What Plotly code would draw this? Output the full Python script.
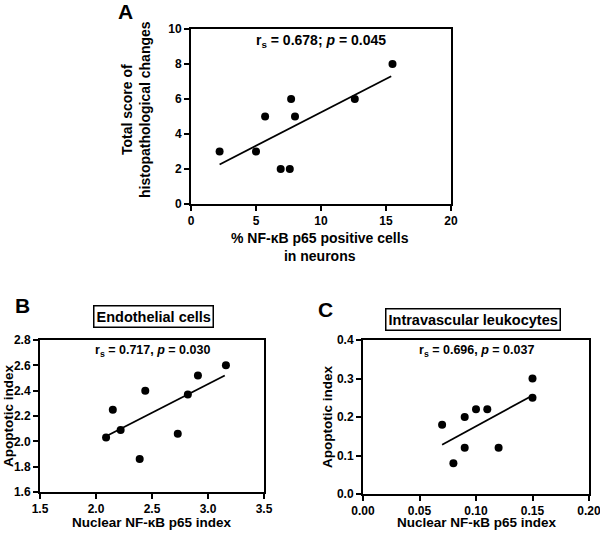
import plotly.graph_objects as go

W, H = 600, 533

# Panel A data
a_x = [2.2, 5.0, 5.7, 6.9, 7.6, 7.7, 8.0, 12.6, 15.5]
a_y = [3, 3, 5, 2, 2, 6, 5, 6, 8]
a_fit_x = [2.2, 15.4]
a_fit_y = [2.26, 7.3]
a_xticks = [0, 5, 10, 15, 20]
a_yticks = [0, 2, 4, 6, 8, 10]

# Panel B data
b_x = [2.09, 2.15, 2.22, 2.39, 2.44, 2.73, 2.82, 2.91, 3.16]
b_y = [2.03, 2.25, 2.09, 1.86, 2.40, 2.06, 2.37, 2.52, 2.60]
b_fit_x = [2.09, 3.15]
b_fit_y = [2.04, 2.52]
b_xticks = [1.5, 2.0, 2.5, 3.0, 3.5]
b_yticks = [1.6, 1.8, 2.0, 2.2, 2.4, 2.6, 2.8]

# Panel C data
c_x = [0.07, 0.08, 0.09, 0.09, 0.10, 0.11, 0.12, 0.15, 0.15]
c_y = [0.18, 0.08, 0.20, 0.12, 0.22, 0.22, 0.12, 0.30, 0.25]
c_fit_x = [0.07, 0.15]
c_fit_y = [0.128, 0.256]
c_xticks = [0.00, 0.05, 0.10, 0.15, 0.20]
c_yticks = [0.0, 0.1, 0.2, 0.3, 0.4]

FONT = "Liberation Sans, Arial, Helvetica, sans-serif"

def px(x):
    return x / W

def py(y):
    return 1 - y / H

fig = go.Figure()

panels = [
    ("x", "y", a_x, a_y, a_fit_x, a_fit_y),
    ("x2", "y2", b_x, b_y, b_fit_x, b_fit_y),
    ("x3", "y3", c_x, c_y, c_fit_x, c_fit_y),
]
for xa, ya, xs, ys, fx, fy in panels:
    fig.add_trace(go.Scatter(x=fx, y=fy, mode="lines", xaxis=xa, yaxis=ya,
                             line=dict(color="black", width=1.8), showlegend=False))
    fig.add_trace(go.Scatter(x=xs, y=ys, mode="markers", xaxis=xa, yaxis=ya,
                             marker=dict(color="black", size=8), showlegend=False,
                             cliponaxis=False))

def axis_style(ticks, fmt, rng, domain, anchor):
    return dict(
        domain=domain, anchor=anchor, range=rng, automargin=False,
        tickmode="array", tickvals=ticks,
        ticktext=[fmt.format(t) for t in ticks],
        showline=True, linecolor="black", linewidth=2, mirror=True,
        ticks="outside", ticklen=5, tickwidth=2, tickcolor="black",
        showgrid=False, zeroline=False, ticklabeloverflow="allow",
        tickfont=dict(family=FONT, size=12, color="black", weight="bold"),
    )

fig.update_layout(
    width=W, height=H,
    margin=dict(l=0, r=0, t=0, b=0, autoexpand=False),
    paper_bgcolor="white", plot_bgcolor="white",
    xaxis=axis_style(a_xticks, "{:g}", [0, 20], [px(191), px(451)], "y"),
    yaxis=axis_style(a_yticks, "{:g}", [0, 10], [py(204), py(29)], "x"),
    xaxis2=axis_style(b_xticks, "{:.1f}", [1.5, 3.5], [px(40), px(264)], "y2"),
    yaxis2=axis_style(b_yticks, "{:.1f}", [1.6, 2.8], [py(492), py(340)], "x2"),
    xaxis3=axis_style(c_xticks, "{:.2f}", [0, 0.2], [px(363), px(589)], "y3"),
    yaxis3=axis_style(c_yticks, "{:.1f}", [0, 0.4], [py(494), py(340)], "x3"),
)

def ann(text, x, y, size=12, angle=0, border=False, xanchor="center"):
    d = dict(text=text, x=px(x), y=py(y), xref="paper", yref="paper",
             showarrow=False, textangle=angle, xanchor=xanchor, yanchor="middle",
             font=dict(family=FONT, size=size, color="black", weight="bold"))
    if border:
        d.update(bordercolor="black", borderwidth=1.5, borderpad=2, bgcolor="white")
    fig.add_annotation(**d)

# Panel letters
ann("A", 125, 11, size=21)
ann("B", 22, 305, size=21)
ann("C", 325, 309, size=21)

# Boxed titles
ann("Endothelial cells", 153, 316, size=14.5, border=True)
ann("Intravascular leukocytes", 473, 319, size=14.5, border=True)

# Statistics
ann("r<sub>s</sub> = 0.678; <i>p</i> = 0.045", 321, 41, size=14)
ann("r<sub>s</sub> = 0.717, <i>p</i> = 0.030", 152, 351, size=12.5)
ann("r<sub>s</sub> = 0.696, <i>p</i> = 0.037", 476, 351, size=12.5)

# Axis titles
ann("% NF-κB p65 positive cells<br>in neurons", 320, 247, size=14)
ann("Total score of<br>histopathological changes", 136, 110, size=14, angle=-90)
ann("Nuclear NF-κB p65 index", 152, 522, size=13.5)
ann("Apoptotic index", 8, 416, size=13.5, angle=-90)
ann("Nuclear NF-κB p65 index", 477, 522, size=13.5)
ann("Apoptotic index", 327, 417, size=13.5, angle=-90)

fig.write_html("out.html", config={"displayModeBar": False},
               post_script="document.body.style.margin='0px';")
